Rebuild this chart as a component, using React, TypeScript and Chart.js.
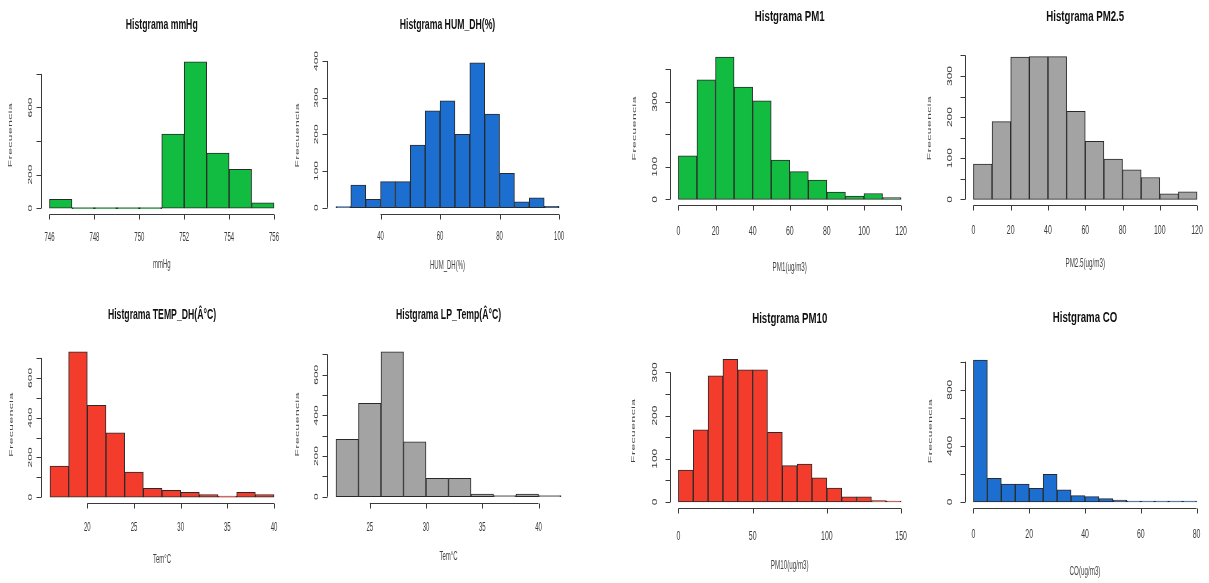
import React, { useEffect, useRef } from 'react';
import { Chart, registerables } from 'chart.js';

Chart.register(...registerables);

// ---------------- Data ----------------
// mmHg
const mmHgBinStart = 746;
const mmHgBinWidth = 1;
const mmHgCounts = [52, 0, 0, 0, 0, 442, 872, 328, 232, 32];
const mmHgXTicks = [746, 748, 750, 752, 754, 756];
const mmHgYTicks = [0, 200, 400, 600, 800];
const mmHgYLabels = ['0', '200', '', '600', ''];

// HUM_DH(%)
const humBinStart = 25;
const humBinWidth = 5;
const humCounts = [2, 62, 23, 71, 71, 171, 264, 291, 200, 395, 255, 94, 16, 27, 4];
const humXTicks = [40, 60, 80, 100];
const humYTicks = [0, 100, 200, 300, 400];
const humYLabels = ['0', '100', '200', '300', '400'];

// PM1
const pm1BinStart = 0;
const pm1BinWidth = 10;
const pm1Counts = [134, 367, 437, 345, 303, 121, 85, 59, 22, 10, 18, 5];
const pm1XTicks = [0, 20, 40, 60, 80, 100, 120];
const pm1YTicks = [0, 100, 200, 300, 400];
const pm1YLabels = ['0', '100', '', '300', ''];

// PM2.5
const pm25BinStart = 0;
const pm25BinWidth = 10;
const pm25Counts = [86, 189, 346, 347, 347, 214, 141, 98, 72, 53, 13, 18];
const pm25XTicks = [0, 20, 40, 60, 80, 100, 120];
const pm25YTicks = [0, 50, 100, 150, 200, 250, 300, 350];
const pm25YLabels = ['0', '', '100', '', '200', '', '300', ''];

// TEMP_DH
const tempBinStart = 16;
const tempBinWidth = 2;
const tempCounts = [156, 731, 462, 323, 126, 45, 34, 25, 13, 5, 25, 13];
const tempXTicks = [20, 25, 30, 35, 40];
const tempYTicks = [0, 100, 200, 300, 400, 500, 600, 700];
const tempYLabels = ['0', '', '200', '', '400', '', '600', ''];

// LP_Temp
const lpBinStart = 22;
const lpBinWidth = 2;
const lpCounts = [282, 459, 713, 270, 90, 90, 13, 3, 13, 5];
const lpXTicks = [25, 30, 35, 40];
const lpYTicks = [0, 100, 200, 300, 400, 500, 600, 700];
const lpYLabels = ['0', '', '200', '', '400', '', '600', ''];

// PM10
const pm10BinStart = 0;
const pm10BinWidth = 10;
const pm10Counts = [74, 167, 292, 330, 306, 306, 161, 84, 88, 56, 32, 12, 12, 3, 1];
const pm10XTicks = [0, 50, 100, 150];
const pm10YTicks = [0, 50, 100, 150, 200, 250, 300];
const pm10YLabels = ['0', '', '100', '', '200', '', '300'];

// CO
const coBinStart = 0;
const coBinWidth = 5;
const coCounts = [1012, 169, 128, 128, 97, 197, 86, 45, 38, 24, 14, 7, 2, 1, 1, 1];
const coXTicks = [0, 20, 40, 60, 80];
const coYTicks = [0, 200, 400, 600, 800, 1000];
const coYLabels = ['0', '', '400', '', '800', ''];

// ---------------- Styles / layout ----------------
const W = 1209;
const H = 583;

const GREEN = '#12BC40';
const BLUE = '#1C6FD0';
const RED = '#F43C2C';
const GRAY = '#A3A3A3';

type Box = { l: number; r: number; t: number; b: number };
type Group = { titleSx: number; tickSx: number; axisSx: number; yTickOff: number };

const LEFT: Group = { titleSx: 0.62, tickSx: 0.5, axisSx: 0.5, yTickOff: 10.5 };
const RIGHT: Group = { titleSx: 0.69, tickSx: 0.58, axisSx: 0.52, yTickOff: 14 };

type Panel = {
  title: string;
  xTitle: string;
  binStart: number;
  binWidth: number;
  counts: number[];
  xTicks: number[];
  yTicks: number[];
  yLabels: string[];
  color: string;
  box: Box;
  titleY: number;
  xTickY: number;
  xTitleY: number;
  yTitleX: number;
  group: Group;
};

const PANELS: Panel[] = [
  {
    title: 'Histgrama mmHg', xTitle: 'mmHg',
    binStart: mmHgBinStart, binWidth: mmHgBinWidth, counts: mmHgCounts,
    xTicks: mmHgXTicks, yTicks: mmHgYTicks, yLabels: mmHgYLabels, color: GREEN,
    box: { l: 40.5, r: 283, t: 56, b: 214 }, titleY: 25, xTickY: 238, xTitleY: 265, yTitleX: 10, group: LEFT,
  },
  {
    title: 'Histgrama HUM_DH(%)', xTitle: 'HUM_DH(%)',
    binStart: humBinStart, binWidth: humBinWidth, counts: humCounts,
    xTicks: humXTicks, yTicks: humYTicks, yLabels: humYLabels, color: BLUE,
    box: { l: 327, r: 568, t: 57, b: 213.5 }, titleY: 25, xTickY: 237, xTitleY: 266, yTitleX: 297, group: LEFT,
  },
  {
    title: 'Histgrama PM1', xTitle: 'PM1(ug/m3)',
    binStart: pm1BinStart, binWidth: pm1BinWidth, counts: pm1Counts,
    xTicks: pm1XTicks, yTicks: pm1YTicks, yLabels: pm1YLabels, color: GREEN,
    box: { l: 669.5, r: 910, t: 51.5, b: 205 }, titleY: 17, xTickY: 232, xTitleY: 268, yTitleX: 634, group: RIGHT,
  },
  {
    title: 'Histgrama PM2.5', xTitle: 'PM2.5(ug/m3)',
    binStart: pm25BinStart, binWidth: pm25BinWidth, counts: pm25Counts,
    xTicks: pm25XTicks, yTicks: pm25YTicks, yLabels: pm25YLabels, color: GRAY,
    box: { l: 964.5, r: 1206, t: 51, b: 205 }, titleY: 17, xTickY: 231, xTitleY: 264, yTitleX: 929, group: RIGHT,
  },
  {
    title: 'Histgrama TEMP_DH(Â°C)', xTitle: 'Tem°C',
    binStart: tempBinStart, binWidth: tempBinWidth, counts: tempCounts,
    xTicks: tempXTicks, yTicks: tempYTicks, yLabels: tempYLabels, color: RED,
    box: { l: 41, r: 283, t: 346, b: 503 }, titleY: 315, xTickY: 528, xTitleY: 560, yTitleX: 11.5, group: LEFT,
  },
  {
    title: 'Histgrama LP_Temp(Â°C)', xTitle: 'Tem°C',
    binStart: lpBinStart, binWidth: lpBinWidth, counts: lpCounts,
    xTicks: lpXTicks, yTicks: lpYTicks, yLabels: lpYLabels, color: GRAY,
    box: { l: 327, r: 570, t: 346, b: 502.5 }, titleY: 315, xTickY: 528, xTitleY: 557, yTitleX: 297, group: LEFT,
  },
  {
    title: 'Histgrama PM10', xTitle: 'PM10(ug/m3)',
    binStart: pm10BinStart, binWidth: pm10BinWidth, counts: pm10Counts,
    xTicks: pm10XTicks, yTicks: pm10YTicks, yLabels: pm10YLabels, color: RED,
    box: { l: 669.5, r: 910, t: 353.7, b: 507.7 }, titleY: 319.5, xTickY: 536.5, xTitleY: 566, yTitleX: 633, group: RIGHT,
  },
  {
    title: 'Histgrama CO', xTitle: 'CO(ug/m3)',
    binStart: coBinStart, binWidth: coBinWidth, counts: coCounts,
    xTicks: coXTicks, yTicks: coYTicks, yLabels: coYLabels, color: BLUE,
    box: { l: 964.5, r: 1205.5, t: 354.3, b: 507.7 }, titleY: 318.5, xTickY: 535, xTitleY: 572, yTitleX: 930, group: RIGHT,
  },
];

const FONT = '"Liberation Sans", Arial, Helvetica, sans-serif';

function drawText(
  ctx: CanvasRenderingContext2D, text: string, x: number, y: number,
  font: string, color: string, sx: number, rotate = false, spacing = '0px',
) {
  ctx.save();
  ctx.translate(x, y);
  ctx.scale(sx, 1);
  if (rotate) ctx.rotate(-Math.PI / 2);
  ctx.font = font;
  ctx.fillStyle = color;
  ctx.textAlign = 'center';
  ctx.textBaseline = 'middle';
  (ctx as any).letterSpacing = spacing;
  ctx.fillText(text, 0, 0);
  ctx.restore();
}

function makePlugin(p: Panel) {
  return {
    id: 'rAxes',
    afterDraw(chart: any) {
      const ctx: CanvasRenderingContext2D = chart.ctx;
      const xs = chart.scales.x;
      const ys = chart.scales.y;
      const area = chart.chartArea;
      const g = p.group;
      ctx.save();
      ctx.strokeStyle = '#3a3a3a';
      ctx.lineWidth = 1;

      // x axis (R style: from first to last tick)
      const yb = Math.round(area.bottom) + 0.5;
      const xFirst = xs.getPixelForValue(p.xTicks[0]);
      const xLast = xs.getPixelForValue(p.xTicks[p.xTicks.length - 1]);
      ctx.beginPath();
      ctx.moveTo(xFirst, yb);
      ctx.lineTo(xLast, yb);
      p.xTicks.forEach((t) => {
        const px = Math.round(xs.getPixelForValue(t)) + 0.5;
        ctx.moveTo(px, yb);
        ctx.lineTo(px, yb + 5);
      });
      ctx.stroke();
      p.xTicks.forEach((t) => {
        drawText(ctx, String(t), xs.getPixelForValue(t), p.xTickY, `12px ${FONT}`, '#3a3a3a', g.tickSx);
      });

      // y axis
      const xl = Math.round(area.left) + 0.5;
      const yFirst = ys.getPixelForValue(p.yTicks[0]);
      const yLast = ys.getPixelForValue(p.yTicks[p.yTicks.length - 1]);
      ctx.beginPath();
      ctx.moveTo(xl, yFirst);
      ctx.lineTo(xl, yLast);
      p.yTicks.forEach((t) => {
        const py = Math.round(ys.getPixelForValue(t)) + 0.5;
        ctx.moveTo(xl, py);
        ctx.lineTo(xl - 5, py);
      });
      ctx.stroke();
      p.yTicks.forEach((t, i) => {
        const lab = p.yLabels[i];
        if (lab) drawText(ctx, lab, area.left - g.yTickOff, ys.getPixelForValue(t), `12px ${FONT}`, '#3a3a3a', g.tickSx, true);
      });

      // titles
      const cx = (area.left + area.right) / 2;
      drawText(ctx, p.title, cx, p.titleY, `bold 14px ${FONT}`, '#111', g.titleSx);
      drawText(ctx, p.xTitle, cx, p.xTitleY, `12px ${FONT}`, '#444', g.axisSx);
      drawText(ctx, 'Frecuencia', p.yTitleX, (area.top + area.bottom) / 2, `12px ${FONT}`, '#444', g.axisSx, true, '0.5px');
      ctx.restore();
    },
  };
}

function makeConfig(p: Panel): any {
  const n = p.counts.length;
  const xStart = p.binStart;
  const xEnd = p.binStart + n * p.binWidth;
  const span = xEnd - xStart;
  const maxCount = Math.max(...p.counts);
  const data = p.counts.map((c, i) => ({ x: p.binStart + (i + 0.5) * p.binWidth, y: c }));
  return {
    type: 'bar',
    data: {
      datasets: [
        {
          data,
          backgroundColor: p.color,
          borderColor: '#2a2a2a',
          borderWidth: 1,
          borderSkipped: false,
          barPercentage: 1,
          categoryPercentage: 1,
          minBarLength: 1,
        },
      ],
    },
    options: {
      responsive: false,
      animation: false,
      events: [],
      layout: {
        padding: { left: p.box.l, right: W - p.box.r, top: p.box.t, bottom: H - p.box.b },
      },
      plugins: {
        legend: { display: false },
        tooltip: { enabled: false },
        title: { display: false },
      },
      scales: {
        x: {
          type: 'linear',
          display: false,
          offset: false,
          min: xStart - 0.04 * span,
          max: xEnd + 0.04 * span,
          afterBuildTicks: (scale: any) => {
            scale.ticks = p.xTicks.map((v) => ({ value: v }));
          },
        },
        y: {
          type: 'linear',
          display: false,
          min: -0.04 * maxCount,
          max: 1.04 * maxCount,
          afterBuildTicks: (scale: any) => {
            scale.ticks = p.yTicks.map((v) => ({ value: v }));
          },
        },
      },
    },
    plugins: [makePlugin(p)],
  };
}

export default function App() {
  const refs = useRef<(HTMLCanvasElement | null)[]>([]);
  useEffect(() => {
    const charts = PANELS.map((p, i) => new Chart(refs.current[i] as HTMLCanvasElement, makeConfig(p)));
    return () => charts.forEach((c) => c.destroy());
  }, []);
  return (
    <div style={{ position: 'absolute', left: 0, top: 0, width: W, height: H, background: '#ffffff' }}>
      {PANELS.map((p, i) => (
        <canvas
          key={p.title}
          ref={(el) => { refs.current[i] = el; }}
          width={W}
          height={H}
          style={{ position: 'absolute', left: 0, top: 0, width: W, height: H }}
        />
      ))}
    </div>
  );
}
